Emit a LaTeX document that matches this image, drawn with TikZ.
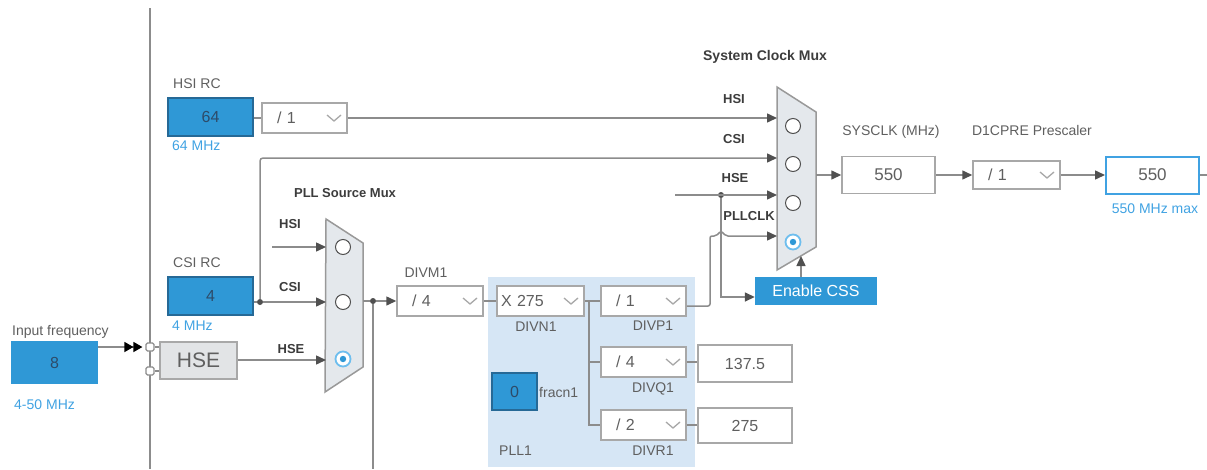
\documentclass[tikz,border=0pt]{standalone}
\usepackage{fontspec}
\setmainfont{Liberation Sans}
\usepackage{xcolor}
\usetikzlibrary{arrows.meta, positioning}

\definecolor{clkblue}{RGB}{47,152,214}
\definecolor{clkedge}{RGB}{38,105,150}
\definecolor{numtext}{RGB}{45,75,105}
\definecolor{mhzblue}{RGB}{64,162,226}
\definecolor{wiregray}{RGB}{140,140,140}
\definecolor{tipgray}{RGB}{80,80,80}
\definecolor{boxgray}{RGB}{168,168,168}
\definecolor{txtgray}{RGB}{95,95,95}
\definecolor{lbldark}{RGB}{60,60,60}
\definecolor{muxfill}{RGB}{228,232,236}
\definecolor{pllfill}{RGB}{214,230,245}
\definecolor{hsefill}{RGB}{226,228,230}
\definecolor{selring}{RGB}{110,190,238}

\newcommand{\lblfont}{\fontsize{14}{16}\selectfont}
\newcommand{\valfont}{\fontsize{16}{18}\selectfont}
\newcommand{\bigvalfont}{\fontsize{17}{20}\selectfont}
\newcommand{\muxfont}{\fontsize{13}{15}\selectfont\bfseries}

\begin{document}
\begin{tikzpicture}[
    x=1pt, y=-1pt,
    wire/.style={draw=wiregray, line width=1.5pt},
    arrow/.style={wire, -{Triangle[length=10pt, width=9pt, color=tipgray]}},
    lbl/.style={font=\lblfont, text=txtgray, inner sep=0pt, anchor=base},
    mhz/.style={font=\lblfont, text=mhzblue, inner sep=0pt, anchor=base west},
    muxlbl/.style={font=\muxfont, text=lbldark, inner sep=0pt, anchor=base},
    srcbox/.style={rectangle, draw=clkedge, fill=clkblue, line width=1.2pt, text=numtext, font=\valfont, minimum width=85pt, minimum height=38pt},
    valbox/.style={rectangle, draw=boxgray, fill=white, line width=1.5pt, text=txtgray, font=\valfont, minimum width=93pt, minimum height=37pt},
    dropdown/.style={rectangle, draw=boxgray, fill=white, line width=1.5pt, text=txtgray, font=\valfont, minimum height=30pt, inner xsep=15pt, text width=#1, align=left,
        path picture={\draw[boxgray, line width=1.3pt] ([xshift=-20pt, yshift=3pt]path picture bounding box.east) -- ++(7pt,-6pt) -- ++(7pt,6pt);}},
    dropdown/.default=55pt,
    mux/.style={draw=gray!80, fill=muxfill, line width=1.5pt},
    port/.style={circle, draw=tipgray, fill=white, line width=1pt, minimum size=15pt, inner sep=0pt},
    sel/.style={circle, draw=selring, fill=white, line width=1.8pt, minimum size=15pt, inner sep=0pt,
        path picture={\fill[clkblue] (path picture bounding box.center) circle (3.2pt);}},
    dot/.style={circle, fill=tipgray, minimum size=6pt, inner sep=0pt},
    pin/.style={rectangle, rounded corners=1.5pt, draw=wiregray, fill=white, line width=1.2pt, minimum size=8pt, inner sep=0pt}
]
    \useasboundingbox (0,0) rectangle (1207,469);

    % Rail and PLL1 area
    \coordinate (railtop) at (150,8);
    \coordinate (railbot) at (150,469);
    \draw[wire] (railtop) -- (railbot);
    \node[fill=pllfill, minimum width=207pt, minimum height=190pt, inner sep=0pt] (pllarea) at (591.5,372) {};

    % Oscillators
    \node[srcbox] (hsi) at (210.5,117) {64};
    \node[lbl, anchor=base west] (hsilbl) at (173,88) {HSI RC};
    \node[mhz] (hsimhz) at (172,150) {64 MHz};
    \node[dropdown=55pt] (hsidiv) at (304.5,118) {/ 1};

    \node[srcbox] (csi) at (210.5,296) {4};
    \node[lbl, anchor=base west] (csilbl) at (173,267) {CSI RC};
    \node[mhz] (csimhz) at (172,330) {4 MHz};

    \node[srcbox, draw=clkblue, minimum height=41pt] (infreq) at (54.5,362.5) {8};
    \node[lbl, anchor=base west] (inlbl) at (12,335) {Input frequency};
    \node[mhz] (inmhz) at (14,409) {4-50 MHz};

    \node[pin] (pinA) at (150,347) {};
    \node[pin] (pinB) at (150,371) {};
    \node[rectangle, draw=boxgray, fill=hsefill, line width=1.5pt, text=txtgray, font=\fontsize{21}{24}\selectfont, minimum width=77pt, minimum height=37pt] (hse) at (198.5,360.5) {HSE};

    % PLL Source Mux
    \draw[mux] (326,219) -- (363,243) -- (363,367) -- (325,392) -- cycle;
    \coordinate (pmin1) at (326,247);
    \coordinate (pmin2) at (326,302);
    \coordinate (pmin3) at (326,360);
    \coordinate (pmout) at (363,301);
    \node[port] (pm1) at (343,247) {};
    \node[port] (pm2) at (343,302) {};
    \node[sel] (pm3) at (343,359) {};
    \node[muxlbl, font=\fontsize{13}{15}\selectfont\bfseries] (pmtitle) at (345,197) {PLL Source Mux};
    \node[muxlbl] (pmhsi) at (290,228) {HSI};
    \node[muxlbl] (pmcsi) at (290,291) {CSI};
    \node[muxlbl] (pmhse) at (291,353) {HSE};

    % PLL1
    \node[dropdown=56pt] (divm) at (440,301) {/ 4};
    \node[lbl] (divmlbl) at (426,277) {DIVM1};
    \node[dropdown=79pt, inner xsep=4pt] (divn) at (540.5,301) {X 275};
    \node[lbl] (divnlbl) at (536,331) {DIVN1};
    \node[dropdown] (divp) at (643.5,301) {/ 1};
    \node[lbl] (divplbl) at (653,330) {DIVP1};
    \node[dropdown] (divq) at (643.5,362) {/ 4};
    \node[lbl] (divqlbl) at (653,392) {DIVQ1};
    \node[dropdown] (divr) at (643.5,425) {/ 2};
    \node[lbl] (divrlbl) at (653,455) {DIVR1};
    \node[valbox, minimum width=94pt] (pllq) at (745,363.5) {137.5};
    \node[valbox, minimum width=94pt, minimum height=35pt] (pllr) at (745,425.5) {275};
    \node[srcbox, minimum width=45pt, minimum height=37pt] (fracn) at (514.5,391.5) {0};
    \node[lbl, anchor=base west] (fracnlbl) at (539,397) {fracn1};
    \node[lbl, anchor=base west] (plllbl) at (499,455) {PLL1};
    \coordinate (pbus) at (589,301);

    % System Clock Mux
    \draw[mux] (777,87) -- (816,112) -- (816,247) -- (777,270) -- cycle;
    \coordinate (smin1) at (777,118);
    \coordinate (smin2) at (777,158);
    \coordinate (smin3) at (777,195);
    \coordinate (smin4) at (777,236);
    \coordinate (smout) at (816,175);
    \coordinate (smcss) at (801,256);
    \node[port] (sm1) at (793,126) {};
    \node[port] (sm2) at (793,164) {};
    \node[port] (sm3) at (793,203) {};
    \node[sel] (sm4) at (793,242) {};
    \node[muxlbl, font=\fontsize{14}{16}\selectfont\bfseries] (smtitle) at (765,60) {System Clock Mux};
    \node[muxlbl] (smhsi) at (734,103) {HSI};
    \node[muxlbl] (smcsi) at (734,143) {CSI};
    \node[muxlbl] (smhse) at (735,182) {HSE};
    \node[muxlbl] (smpll) at (749,220) {PLLCLK};
    \node[rectangle, fill=clkblue, text=white, font=\valfont, minimum width=122pt, minimum height=28pt] (css) at (816,291) {Enable CSS};

    % Outputs
    \node[valbox, font=\bigvalfont] (sysclk) at (888.5,175) {550};
    \node[lbl] (sysclklbl) at (891,135) {SYSCLK (MHz)};
    \node[dropdown=57pt, minimum height=28pt] (d1cpre) at (1016.5,175) {/ 1};
    \node[lbl] (d1cprelbl) at (1032,135) {D1CPRE Prescaler};
    \node[valbox, draw=mhzblue, line width=2pt, font=\bigvalfont] (hclk) at (1152.5,175) {550};
    \node[mhz, anchor=base] (hclkmhz) at (1155,213) {550 MHz max};
    \coordinate (hclkout) at (1207,175);

    % Dots and free ends
    \node[dot] (csidot) at (260,302) {};
    \node[dot] (pmdot) at (373,301) {};
    \node[dot] (hsedot) at (721,195) {};
    \coordinate (pllfree) at (373,469);
    \coordinate (hsefree) at (675,195);
    \coordinate (hsipll) at (272,247);

    % Connectors
    \draw[wire] (hsi.east |- hsidiv) -- (hsidiv.west);
    \draw[arrow] (hsidiv.east) -- (smin1);
    \draw[wire] (csi.east |- csidot) -- (csidot);
    \draw[arrow] (csidot) -- (pmin2);
    \draw[arrow, rounded corners=3pt] (csidot) |- (smin2);
    \draw[arrow] (hsipll) -- (pmin1);
    \draw[arrow] (hse.east |- pmin3) -- (pmin3);
    \draw[wire, shorten >=3pt, -{Triangle[length=9pt, width=10pt, color=black] Triangle[length=9pt, width=10pt, color=black]}] (infreq.east |- pinA) -- (pinA.west);
    \draw[wire] (pinA.east) -- (pinA -| hse.west);
    \draw[wire] (pinB.east) -- (pinB -| hse.west);

    \draw[wire] (pmout) -- (pmdot);
    \draw[arrow] (pmdot) -- (divm.west);
    \draw[wire] (pmdot) -- (pllfree);
    \draw[wire] (divm) -- (divn);
    \draw[wire] (divn) -- (divp);
    \draw[wire] (pbus) |- (divq.west);
    \draw[wire] (pbus) |- (divr.west);
    \draw[wire] (divq.east) -- (divq.east -| pllq.west);
    \draw[wire] (divr.east) -- (divr.east -| pllr.west);

    \draw[arrow, rounded corners=2pt] ([yshift=-5pt]divp.east) -- (710,306) -- (710,236) -- (716,236) -- (721,231) -- (726,236) -- (smin4);
    \draw[arrow] (hsefree) -- (smin3);
    \draw[arrow] (hsedot) |- ([yshift=-6pt]css.west);
    \draw[arrow] (css.north -| smcss) -- (smcss);
    \draw[arrow] (smout) -- (sysclk.west);
    \draw[arrow] (sysclk) -- (d1cpre);
    \draw[arrow] (d1cpre) -- (hclk);
    \draw[wire] (hclk) -- (hclkout);
\end{tikzpicture}
\end{document}
